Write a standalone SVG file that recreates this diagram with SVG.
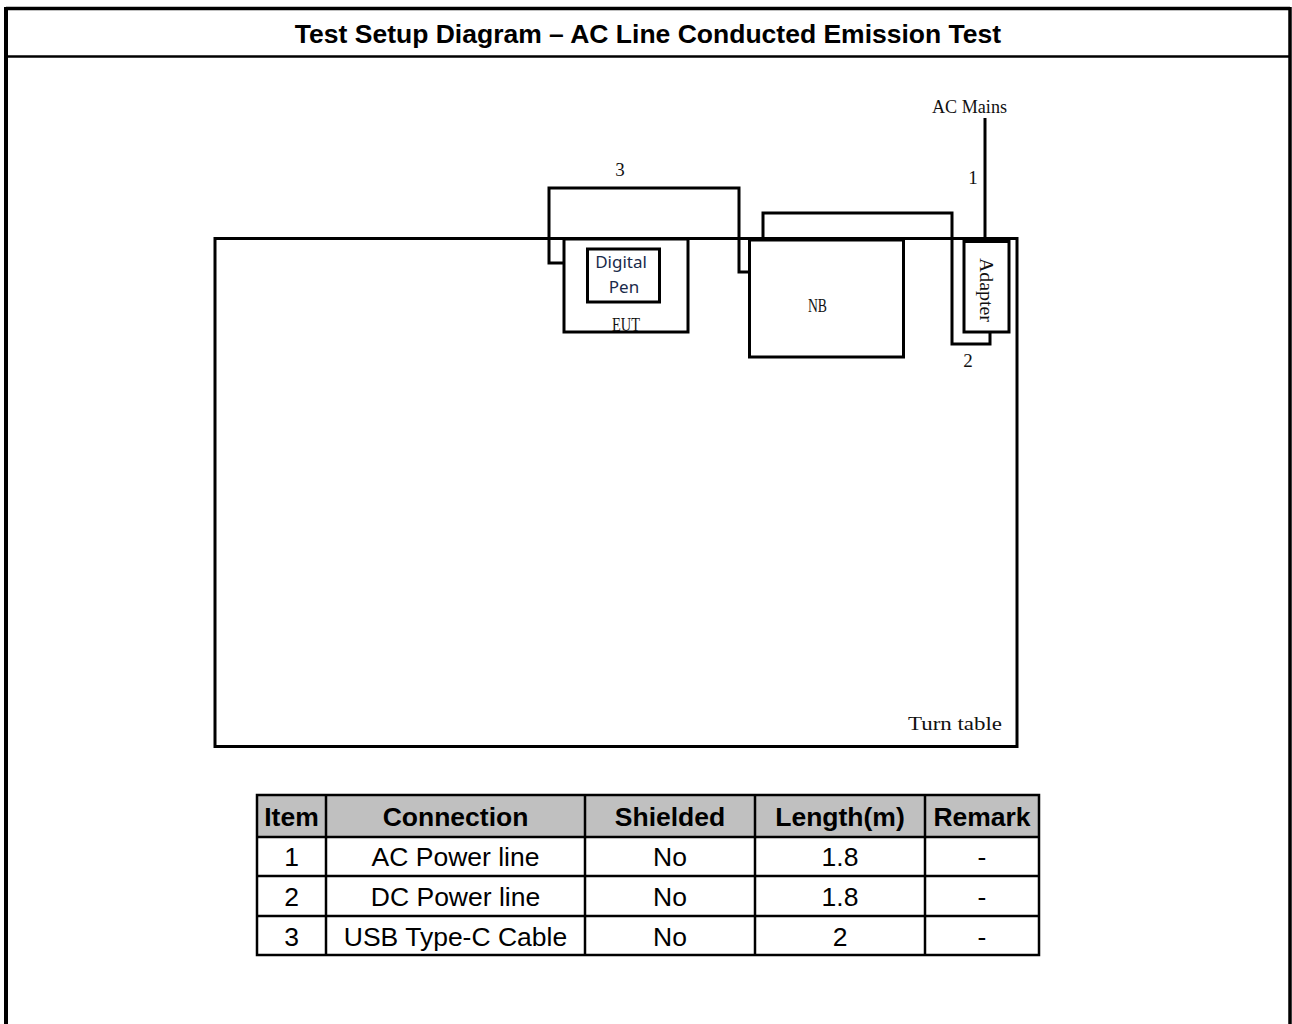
<svg xmlns="http://www.w3.org/2000/svg" width="1292" height="1024" viewBox="0 0 1292 1024">
<style>
.box{fill:none;stroke:#000;stroke-width:3}
.cable{fill:none;stroke:#000;stroke-width:3}
.serif{font-family:"Liberation Serif","DejaVu Serif",serif;font-size:19px;fill:#111}
.sans{font-family:"Noto Sans","DejaVu Sans",sans-serif;font-size:17px;fill:#1a2a4a}
.title{font-family:"Liberation Sans",Arial,sans-serif;font-size:26.5px;font-weight:bold;fill:#000}
.th{font-family:"Liberation Sans",Arial,sans-serif;font-size:26.5px;font-weight:bold;fill:#000}
.td{font-family:"Liberation Sans",Arial,sans-serif;font-size:26.5px;fill:#000}
.grid{stroke:#000;stroke-width:2.5;fill:none}
</style>
<rect x="0" y="0" width="1292" height="1024" fill="#fff"/>
<g id="frame">
<line x1="6" y1="8.5" x2="1290" y2="8.5" stroke="#000" stroke-width="3.5"/>
<line x1="6" y1="7" x2="6" y2="1024" stroke="#000" stroke-width="4"/>
<line x1="1290" y1="7" x2="1290" y2="1024" stroke="#000" stroke-width="3.5"/>
<line x1="6" y1="56.5" x2="1290" y2="56.5" stroke="#000" stroke-width="2.5"/>
<text class="title" x="648" y="43" text-anchor="middle">Test Setup Diagram – AC Line Conducted Emission Test</text>
</g>
<g id="turntable">
<rect class="box" x="215" y="238.5" width="802" height="508"/>
<text class="serif" x="908" y="730" textLength="94" lengthAdjust="spacingAndGlyphs">Turn table</text>
</g>
<g id="eut">
<rect class="box" x="564" y="239" width="124" height="93"/>
<text class="serif" x="612" y="331" textLength="28" lengthAdjust="spacingAndGlyphs">EUT</text>
</g>
<g id="digital-pen">
<rect class="box" x="587.5" y="249" width="72" height="53"/>
<text class="sans" x="621" y="268" text-anchor="middle">Digital</text>
<text class="sans" x="624" y="293" text-anchor="middle">Pen</text>
</g>
<g id="nb">
<rect class="box" x="749.5" y="240" width="154" height="117"/>
<text class="serif" x="808" y="312" textLength="19" lengthAdjust="spacingAndGlyphs">NB</text>
</g>
<g id="adapter">
<rect class="box" x="964" y="241" width="45" height="91"/>
<line x1="963" y1="241" x2="1010" y2="241" stroke="#000" stroke-width="4"/>
<text class="serif" transform="translate(980,258) rotate(90)" textLength="64" lengthAdjust="spacingAndGlyphs">Adapter</text>
</g>
<g id="ac-mains">
<text class="serif" x="932" y="113" textLength="75" lengthAdjust="spacingAndGlyphs">AC Mains</text>
</g>
<g id="connectors">
<polyline class="cable" points="985,118 985,241"/>
<text class="serif" x="973" y="184" text-anchor="middle">1</text>
<polyline class="cable" points="763,240 763,213 952,213 952,344 990,344 990,332"/>
<text class="serif" x="968" y="367" text-anchor="middle">2</text>
<polyline class="cable" points="564,263 549,263 549,188 739,188 739,272 749,272"/>
<text class="serif" x="620" y="176" text-anchor="middle">3</text>
</g>
<g id="table">
<rect x="257" y="795" width="782" height="42" fill="#c0c0c0"/>
<rect class="grid" x="257" y="795" width="782" height="160"/>
<line class="grid" x1="257" y1="837" x2="1039" y2="837"/>
<line class="grid" x1="257" y1="876" x2="1039" y2="876"/>
<line class="grid" x1="257" y1="916" x2="1039" y2="916"/>
<line class="grid" x1="326" y1="795" x2="326" y2="955"/>
<line class="grid" x1="585" y1="795" x2="585" y2="955"/>
<line class="grid" x1="755" y1="795" x2="755" y2="955"/>
<line class="grid" x1="925" y1="795" x2="925" y2="955"/>
<text class="th" x="291.5" y="826" text-anchor="middle">Item</text>
<text class="th" x="455.5" y="826" text-anchor="middle">Connection</text>
<text class="th" x="670" y="826" text-anchor="middle">Shielded</text>
<text class="th" x="840" y="826" text-anchor="middle">Length(m)</text>
<text class="th" x="982" y="826" text-anchor="middle">Remark</text>
<text class="td" x="291.5" y="866" text-anchor="middle">1</text>
<text class="td" x="455.5" y="866" text-anchor="middle">AC Power line</text>
<text class="td" x="670" y="866" text-anchor="middle">No</text>
<text class="td" x="840" y="866" text-anchor="middle">1.8</text>
<text class="td" x="982" y="866" text-anchor="middle">-</text>
<text class="td" x="291.5" y="906" text-anchor="middle">2</text>
<text class="td" x="455.5" y="906" text-anchor="middle">DC Power line</text>
<text class="td" x="670" y="906" text-anchor="middle">No</text>
<text class="td" x="840" y="906" text-anchor="middle">1.8</text>
<text class="td" x="982" y="906" text-anchor="middle">-</text>
<text class="td" x="291.5" y="946" text-anchor="middle">3</text>
<text class="td" x="455.5" y="946" text-anchor="middle">USB Type-C Cable</text>
<text class="td" x="670" y="946" text-anchor="middle">No</text>
<text class="td" x="840" y="946" text-anchor="middle">2</text>
<text class="td" x="982" y="946" text-anchor="middle">-</text>
</g>
</svg>
